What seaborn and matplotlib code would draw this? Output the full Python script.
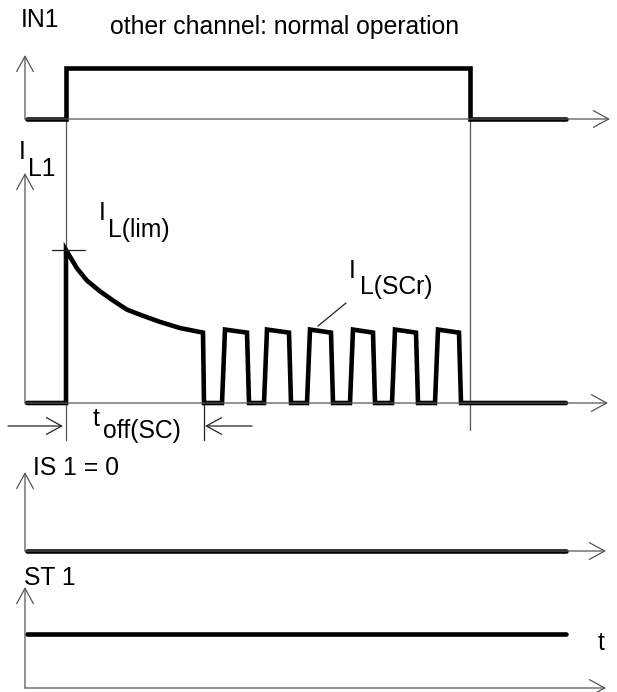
import numpy as np
import pandas as pd
import seaborn as sns
import matplotlib.pyplot as plt

# ------------------------
# Données lues sur le chronogramme (temps en unités du schéma)

# IN1 : niveau logique
t_in1 = [27, 66, 66, 470, 470, 566]
in1 = [0, 0, 1, 1, 0, 0]

# IL1 : courant en % de IL(lim) (pic, décroissance, puis redémarrages)
t_il1 = [27, 66, 66, 77, 87, 100, 113, 127, 143, 160, 180, 203,
         204, 222, 225, 247, 249, 264, 267, 289, 291, 307, 310, 331, 333,
         350, 353, 373, 375, 392, 395, 416, 418, 435, 438, 459, 461, 566]
il1 = [0, 0, 100, 88, 80, 73, 67, 61, 57, 53, 49, 46,
       0, 0, 48, 46, 0, 0, 48, 46, 0, 0, 48, 46, 0,
       0, 48, 46, 0, 0, 48, 46, 0, 0, 48, 46, 0, 0]

# IS 1 et ST 1
t_is = [27, 566]
is1 = [0, 0]
t_st = [27, 566]
st1 = [1, 1]

# instants remarquables
t_on, t_off, t_end_sc = 66, 470, 204
il_lim = 100

# ------------------------
# Mise en page : (ligne de base, échelle, haut de l'axe, fin de l'axe)
canaux = {
    "IN1": (119, 51, 55, 610),
    "IL1": (403, 1.53, 173, 608),
    "IS": (551, 50, 472, 606),
    "ST": (688, 54, 587, 606),
}
gris = "#555555"
fs = 17.8

sns.set_theme(style="white")
plt.rcParams["font.family"] = ["Liberation Sans", "DejaVu Sans"]

fig = plt.figure(figsize=(6.17, 6.92), dpi=100)
ax = fig.add_axes([0, 0, 1, 1])


def fleche(x0, y0, x1, y1, lw=0.9, col=gris):
    ax.annotate("", xy=(x1, y1), xytext=(x0, y0),
                arrowprops=dict(arrowstyle="->,head_length=1.1,head_width=0.6",
                                color=col, lw=lw, shrinkA=0, shrinkB=0,
                                mutation_scale=10))


# axes de chaque canal
for nom, (base, ech, haut, fin) in canaux.items():
    fleche(25, base, 25, haut)
    fleche(25, base, fin, base)

# repères verticaux
ax.plot([t_on, t_on], [canaux["IN1"][0], 440], color=gris, lw=0.9)
ax.plot([t_off, t_off], [canaux["IN1"][0], 430], color=gris, lw=0.9)
ax.plot([t_end_sc, t_end_sc], [canaux["IL1"][0], 440], color="#222222", lw=0.9)

# signaux
signaux = [("IN1", t_in1, in1), ("IL1", t_il1, il1), ("IS", t_is, is1), ("ST", t_st, st1)]
for nom, t, v in signaux:
    base, ech = canaux[nom][0], canaux[nom][1]
    df = pd.DataFrame({"t": t, "y": base - np.array(v) * ech})
    sns.lineplot(data=df, x="t", y="y", sort=False, estimator=None, ax=ax,
                 color="black", lw=3.3, solid_joinstyle="miter")
ax.set_xlim(0, 617)
ax.set_ylim(692, 0)
ax.axis("off")

# IL(lim) : petit trait horizontal au pic
y_lim = canaux["IL1"][0] - il_lim * canaux["IL1"][1]
ax.plot([52, 85], [y_lim, y_lim], color="#222222", lw=0.9)

# trait de renvoi pour IL(SCr)
ax.plot([318, 346], [326, 303], color="#222222", lw=0.9)

# t_off(SC)
fleche(8, 426, t_on - 3, 426, col="#222222")
fleche(252, 426, t_end_sc + 1, 426, col="#222222")

# textes
txt = dict(fontsize=fs, ha="left", va="baseline", color="black")
ax.text(21, 27, "IN1", **txt)
ax.text(110, 34, "other channel: normal operation", **txt)
ax.text(19, 159, "I", **txt)
ax.text(28, 176, "L1", **txt)
ax.text(99, 220, "I", **txt)
ax.text(108, 237, "L(lim)", **txt)
ax.text(349, 278, "I", **txt)
ax.text(360, 294, "L(SCr)", **txt)
ax.text(93, 426, "t", **txt)
ax.text(103, 438, "off(SC)", **txt)
ax.text(33, 475, "IS 1 = 0", **txt)
ax.text(24, 585, "ST 1", **txt)
ax.text(598, 650, "t", **txt)

fig.savefig("out.png", dpi=100)
